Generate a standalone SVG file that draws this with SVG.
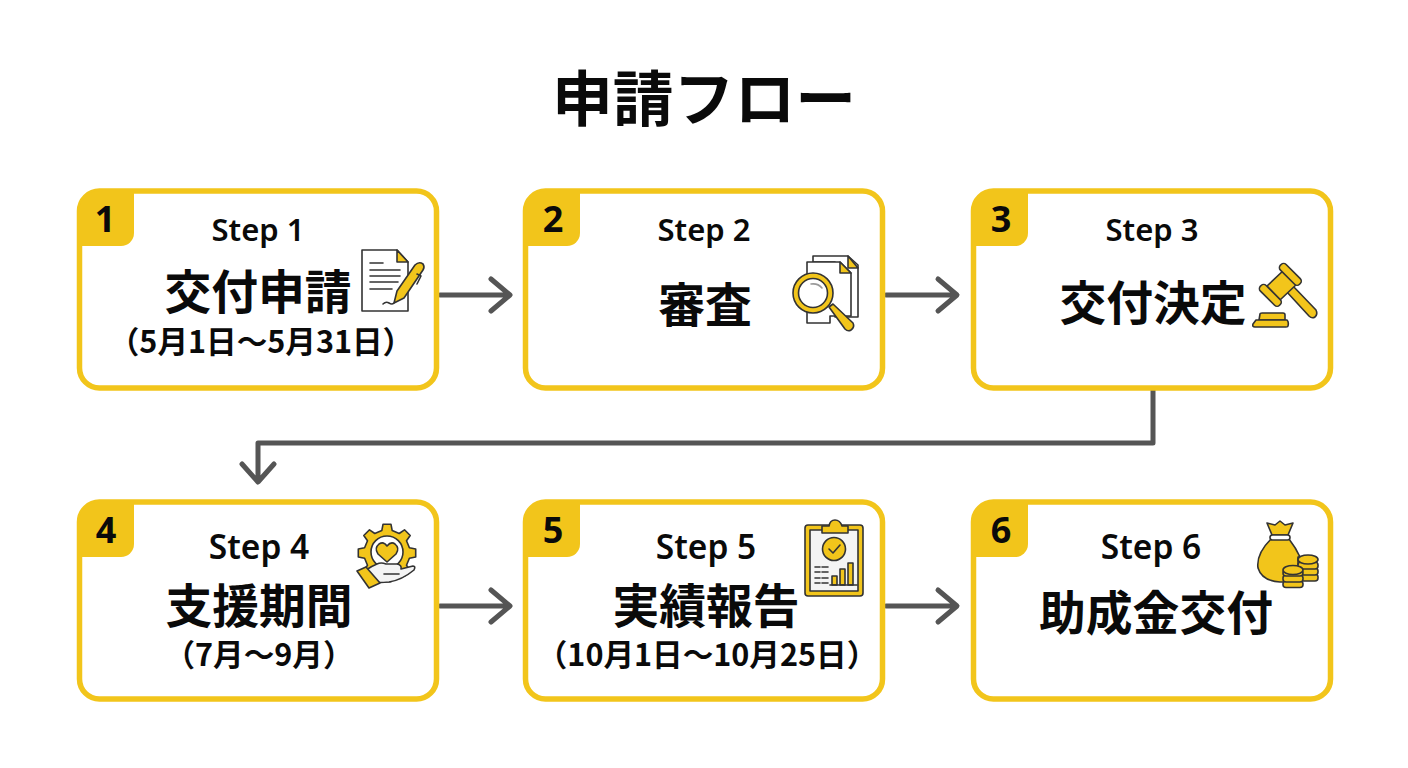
<svg xmlns="http://www.w3.org/2000/svg" width="1408" height="768" viewBox="0 0 1408 768">
<style>
text{font-family:"Noto Sans CJK JP","Noto Sans",sans-serif;fill:#0a0a0a;text-anchor:middle}
.title{font-size:60.800px;font-weight:700}
.step{font-size:31px;font-weight:600;font-family:"Noto Sans","Noto Sans CJK JP",sans-serif}
.step2{font-size:33.500px}
.main{font-size:46.800px;font-weight:700}
.sub{font-size:30.600px;font-weight:700}
.num{font-size:36px;font-weight:700;font-family:"Noto Sans","Noto Sans CJK JP",sans-serif}
.box{fill:#fff;stroke:#f2c51b;stroke-width:5.500}
.tab{fill:#f2c51b}
.conn{fill:none;stroke:#555;stroke-width:5;stroke-linecap:round;stroke-linejoin:round}
.i{stroke:#333;stroke-width:1.600;stroke-linejoin:round;stroke-linecap:round}
.y{fill:#f2c51b}.w{fill:#fff}.g{fill:#f4f4f4}.n{fill:none}
</style>
<rect width="1408" height="768" fill="#fff"/>
<text class="title" x="704" y="121">申請フロー</text>
<g id="connectors">
<path class="conn" d="M440 295H509M491 279L510 295L491 311"/>
<path class="conn" d="M886 295H956M938 279L957 295L938 311"/>
<path class="conn" d="M440 606H509M491 590L510 606L491 622"/>
<path class="conn" d="M886 606H956M938 590L957 606L938 622"/>
<path class="conn" d="M1153 390V443H258V481M242 464L258 482L274 464"/>
</g>
<g id="node1">
<rect class="box" x="79.500" y="191" width="357" height="197" rx="20"/>
<path class="tab" d="M79 211a20 20 0 0 1 20-20H134V233a13 13 0 0 1-13 13H79Z"/>
<text class="num" x="105" y="232">1</text>
<text class="step" x="258" y="241">Step 1</text>
<text class="main" x="258" y="309">交付申請</text>
<text class="sub" x="261" y="353">（5月1日〜5月31日）</text>
<g id="icon1" class="i">
<path class="w" d="M362 250H397L408 262V311H362Z"/>
<path class="y" d="M397 250L408 262H397Z"/>
<path class="n" d="M370 263H383M370 270H400M370 276H400M370 282H398M370 289H392M383 304q3-3 6-1t5 0"/>
<path class="y" d="M394 303L397 291L415 265Q419 261 423 264Q425 267 423 270L404 298Z"/>
<path class="n" d="M417 274L421 276L417 284"/>
</g>
</g>
<g id="node2">
<rect class="box" x="525.500" y="191" width="357" height="197" rx="20"/>
<path class="tab" d="M525 211a20 20 0 0 1 20-20H580V233a13 13 0 0 1-13 13H525Z"/>
<text class="num" x="553" y="232">2</text>
<text class="step" x="704" y="241">Step 2</text>
<text class="main" x="705" y="322">審査</text>
<g id="icon2" class="i">
<path class="w" d="M813 256H848L858 265V317H835V262H813Z"/>
<path class="y" d="M848 256L858 268L848 268Z"/>
<path class="w" d="M807 262H840L851 273V316H830V323H807Z"/>
<path class="y" d="M840 262L851 273L840 273Z"/>
<path class="y" d="M829 307L833 304L853 323Q855 327 851 330Q848 332 845 329Z"/>
<circle class="y" cx="813" cy="293" r="20"/>
<circle class="w" cx="813" cy="293" r="14.500"/>
<path class="n" d="M811 284q7-1 11 4" stroke="#999"/>
</g>
</g>
<g id="node3">
<rect class="box" x="973.500" y="191" width="357" height="197" rx="20"/>
<path class="tab" d="M973 211a20 20 0 0 1 20-20H1028V233a13 13 0 0 1-13 13H973Z"/>
<text class="num" x="1001" y="232">3</text>
<text class="step" x="1152" y="241">Step 3</text>
<text class="main" x="1153" y="320">交付決定</text>
<g id="icon3" class="i">
<path class="y" d="M1286 291L1292 285L1316 310Q1318 314 1315 317Q1312 319 1309 316Z"/>
<path class="y" d="M1267 286L1285 269L1298 283L1280 300Z"/>
<rect class="y" x="1257" y="291" width="27" height="8" rx="3.500" transform="rotate(45 1270 295)"/>
<rect class="y" x="1277" y="270" width="27" height="8" rx="3.500" transform="rotate(45 1290 274)"/>
<path class="y" d="M1259 320L1260 314Q1260 313 1262 313H1283Q1285 313 1285 315V320Z"/>
<path class="y" d="M1256 320H1287Q1289 322 1288 326Q1288 327 1286 327H1255Q1252 327 1253 324Z"/>
</g>
</g>
<g id="node4">
<rect class="box" x="79.500" y="502" width="357" height="197" rx="20"/>
<path class="tab" d="M79 522a20 20 0 0 1 20-20H134V544a13 13 0 0 1-13 13H79Z"/>
<text class="num" x="106" y="543">4</text>
<text class="step step2" x="259" y="559">Step 4</text>
<text class="main" x="259" y="623">支援期間</text>
<text class="sub" x="259" y="666">（7月〜9月）</text>
<g id="icon4" class="i">
<path class="y" d="M381.800 530.600L383 524.300H391L392.200 530.600L399.200 533.500L404.500 529.800L410.200 535.500L406.500 540.800L409.400 547.800L415.700 549V557L409.400 558.200L406.500 565.200L410.200 570.500L404.500 576.200L399.200 572.500L392.200 575.400L391 581.700H383L381.800 575.400L374.800 572.500L369.500 576.200L363.800 570.500L367.500 565.200L364.600 558.200L358.300 557V549L364.600 547.800L367.500 540.800L363.800 535.500L369.500 529.800L374.800 533.500Z"/>
<circle class="w" cx="387" cy="552" r="16"/>
<path class="y" d="M387 562L378 554Q374 548 379 544Q384 541 387 546Q391 541 395 544Q400 548 396 554Z"/>
<path class="g" d="M366 570Q372 566 377 564Q381 562 386 564H397Q402 565 401 569L413 566Q416 566 414 570Q402 580 389 582Q378 583 377 582Z"/>
<path class="n" d="M384 574H399"/>
<path class="y" d="M357 571L366 567L380 583L369 588Z"/>
</g>
</g>
<g id="node5">
<rect class="box" x="525.500" y="502" width="357" height="197" rx="20"/>
<path class="tab" d="M525 522a20 20 0 0 1 20-20H580V544a13 13 0 0 1-13 13H525Z"/>
<text class="num" x="553" y="543">5</text>
<text class="step step2" x="706" y="559">Step 5</text>
<text class="main" x="706" y="623">実績報告</text>
<text class="sub" x="707" y="666">（10月1日〜10月25日）</text>
<g id="icon5" class="i">
<rect class="y" x="805" y="525" width="58" height="71" rx="3"/>
<rect class="g" x="810" y="530" width="48" height="61"/>
<path class="y" d="M822 533V526H829Q830 520 835 520Q840 520 842 526H848V533Z"/>
<circle class="y" cx="834" cy="549" r="11.500"/>
<path class="n" d="M829 549L833 553L840 545"/>
<path class="n" d="M815 567H820M822 567H828M815 572H820M822 572H828M815 578H820M822 578H828M815 583H820M822 583H828"/>
<rect class="y" x="832" y="576" width="5" height="9"/>
<rect class="y" x="840" y="569" width="5" height="16"/>
<rect class="y" x="848" y="563" width="5" height="22"/>
<path class="n" d="M830 585H857"/>
</g>
</g>
<g id="node6">
<rect class="box" x="973.500" y="502" width="357" height="197" rx="20"/>
<path class="tab" d="M973 522a20 20 0 0 1 20-20H1028V544a13 13 0 0 1-13 13H973Z"/>
<text class="num" x="1001" y="543">6</text>
<text class="step step2" x="1151" y="559">Step 6</text>
<text class="main" x="1156" y="630">助成金交付</text>
<g id="icon6" class="i">
<path class="y" d="M1271 539Q1256 554 1258 568Q1262 581 1280 582H1298V557H1300Q1296 548 1289 539Z"/>
<path class="y" d="M1267 523L1275 525L1280 521L1285 525L1293 523L1288 535H1272Z"/>
<rect class="w" x="1270" y="535" width="20" height="5" rx="2.500"/>
<g id="coins2">
<rect class="y" x="1298" y="574" width="20" height="7" rx="3"/>
<rect class="y" x="1298" y="568" width="20" height="7" rx="3"/>
<rect class="y" x="1298" y="562" width="20" height="7" rx="3"/>
<ellipse class="y" cx="1308" cy="559.500" rx="10" ry="4.500"/>
</g>
<rect class="y" x="1283" y="581" width="20" height="6.500" rx="3"/>
<rect class="y" x="1283" y="575" width="20" height="7" rx="3"/>
<rect class="y" x="1283" y="570" width="20" height="6" rx="3"/>
<ellipse class="y" cx="1293" cy="570" rx="10" ry="4.500"/>
</g>
</g>
</svg>
